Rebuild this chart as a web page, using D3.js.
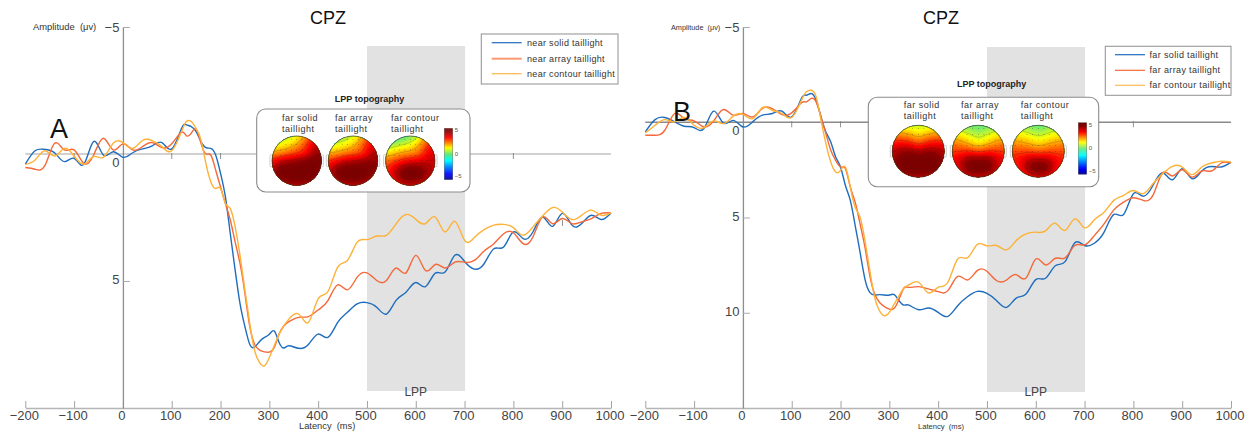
<!DOCTYPE html>
<html>
<head>
<meta charset="utf-8">
<script src="https://cdn.jsdelivr.net/npm/d3@7"></script>
<style>
body { margin: 0; background: #fff; }
svg { display: block; font-family: "Liberation Sans", Arial, sans-serif; }
</style>
</head>
<body>
<svg id="chart" width="1256" height="434"></svg>
<script>
/// Data ///
// Latency samples (ms), finer around the fast drop
const latency = [-200,-180,-160,-140,-120,-100,-80,-60,-40,-20,0,20,40,60,80,100,120,
    130,140,150,160,170,180,190,200,210,220,230,240,250,260,270,280,290,300,310,320,330,
    340,360,380,400,420,440,460,480,500,520,540,560,580,600,620,640,660,680,700,720,740,760,780,800,820,840,860,880,900,920,940,960,980,1000];

// Panel A, amplitude (uV)
const nearSolid = [.40,-.13,-.18,-.05,.30,.17,.40,-.49,.04,-.09,.13,-.05,-.2,-.32,-.45,-.2,-1.0,
    -1.15,-1.08,-.88,-.49,-.25,-.22,.04,.76,1.69,3.14,4.58,5.9,6.8,7.5,7.6,7.38,7.22,7.1,6.97,7.42,7.64,
    7.55,7.65,7.5,7.09,7.22,6.63,6.23,5.9,5.85,6.03,6.3,5.75,5.44,5.06,5.22,4.69,4.65,3.99,4.23,4.53,4.32,3.73,3.66,3.07,3.33,3.07,2.48,2.85,2.34,2.8,2.74,2.41,2.58,2.32];
const nearArray = [.53,.6,.46,-.42,-.16,-.16,.37,.04,-.62,-.16,-.4,-.16,-.29,-.45,-.25,-.4,-.86,
    -.72,-.82,-.97,-.42,0,.04,.63,1.29,1.95,2.6,3.47,4.32,5.5,6.8,7.5,7.72,7.79,7.8,7.62,7.09,6.76,
    6.6,6.43,6.4,6.14,5.77,5.15,5.35,4.85,4.68,4.98,4.98,4.49,4.68,3.99,4.59,4.35,4.49,4.26,4.26,4.19,3.82,3.53,3.14,3.1,3.53,3.27,2.48,2.74,2.54,2.74,2.67,2.54,2.34,2.32];
const nearContour = [.41,.24,-.13,.08,-.22,.08,.4,.1,.13,-.42,-.45,-.22,-.53,-.53,-.29,-.13,-.88,
    -1.28,-1.28,-1.01,-.55,.37,1.09,1.36,1.36,1.95,2.15,2.87,4.0,5.37,6.69,7.75,8.21,8.34,8.01,7.55,7.09,6.76,
    6.5,6.3,6.63,5.7,5.42,4.45,4.19,3.47,3.37,3.23,3.2,2.74,2.38,2.57,2.74,2.48,3.07,2.65,3.4,3.29,2.98,2.8,2.77,2.9,3.2,2.87,2.44,2.11,2.28,2.58,2.41,2.21,2.41,2.32];

// Panel B, amplitude (uV)
const farSolid = [.51,-.14,-.25,-.02,.21,.28,.33,-.58,.04,-.1,.25,-.02,-.37,-.46,-.58,-.28,-1.25,
    -1.42,-1.51,-1.16,-.28,.51,1.04,1.82,2.35,3.32,4.1,5.42,6.82,8.23,8.93,9.07,9.05,9.07,9.07,9.05,9.37,9.6,
    9.6,9.84,9.75,9.98,10.19,9.63,9.16,8.88,8.98,9.37,9.72,9.23,9.02,8.26,8.19,7.53,7.32,6.33,6.47,6.35,5.77,4.84,4.84,3.75,3.88,3.32,2.65,3.02,2.44,2.96,2.56,2.32,2.35,2.09];
const farArray = [.68,.68,.42,-.46,-.19,-.07,.25,-.07,-.67,-.37,-.46,-.28,-.72,-.72,-.4,-.49,-1.02,
    -1.07,-1.25,-1.07,-.28,.6,1.47,2.0,2.35,2.44,3.4,4.2,5.33,6.56,8.05,9.02,9.46,9.68,9.81,9.77,9.28,8.7,
    8.67,8.63,8.75,8.89,8.84,8.09,8.28,7.79,7.82,8.32,8.28,8.0,8.18,7.18,7.49,7.14,7.12,6.47,6.44,5.95,5.33,4.6,4.19,3.96,4.1,3.84,2.65,2.82,2.49,2.88,2.56,2.56,2.14,2.14];
const farContour = [.56,.16,-.14,-.02,-.25,.16,.28,-.07,.07,-.32,-.42,-.19,-.77,-.63,-.46,-.25,-1.16,
    -1.6,-1.68,-1.33,-.11,1.12,2.09,2.61,2.53,2.35,3.4,4.46,4.98,6.21,7.79,9.19,9.9,10.16,9.98,9.54,9.1,8.7,
    8.54,8.4,8.96,8.67,8.4,7.18,7.12,6.42,6.49,6.47,6.7,6.21,5.86,5.77,5.7,5.3,5.68,5.07,5.54,5.12,4.72,4.1,3.84,3.58,3.75,3.23,2.7,2.32,2.35,2.75,2.35,2.14,2.04,2.09];

const xTicks = [-200,-100,0,100,200,300,400,500,600,700,800,900,1000];
const lppWindow = [500, 700];

// Topography values (uV) sampled on a 7x7 grid over the head, top row first
const topoA1 = [[.6,.6,.8,1.2,2.2,3.2,3.6],[1.2,1.3,1.6,2.1,2.9,3.7,4.1],[2.1,2.3,2.6,2.9,3.2,4.2,4.5],[3.3,3.9,4.2,4.4,4.7,4.9,4.6],[4,5,5,5,5,5,4.4],[3.8,4.9,5,5,5,4.9,4.2],[3,3.6,3.9,3.9,3.9,3.6,3]];
const topoA2 = [[.4,.5,.6,1,1.9,3,3.3],[1,1.1,1.4,1.8,2.6,3.4,3.8],[1.9,2.1,2.4,2.6,2.8,3.8,4.2],[3.1,3.5,3.9,4.1,4.3,4.5,4.4],[3.6,4.7,5,5,5,4.9,4.2],[3.5,4.6,5,5,4.9,4.5,3.8],[2.8,3.4,3.8,3.8,3.8,3.4,2.8]];
const topoA3 = [[-.4,-.3,-.1,.2,1,2.3,2.8],[.4,.7,1,1.3,2,3,3.5],[1.5,1.8,2.1,2.2,2.5,3.4,3.8],[2.5,2.9,3.3,3.6,3.7,3.9,3.9],[3,3.8,4.6,4.9,4.8,4.3,3.8],[3,3.8,4.8,5,4.9,4.2,3.4],[2.4,3,3.4,3.5,3.4,3,2.4]];
const topoB1 = [[1.3,1.2,1,.8,1,1.2,1.3],[2.3,2.2,2,1.6,2,2.2,2.3],[3.3,3.4,3.2,2.7,3.2,3.4,3.3],[4,4.4,4.6,4.2,4.6,4.4,4],[4.2,5,5,5,5,5,4.2],[4,4.9,5,5,5,4.9,4],[3,3.6,3.9,3.9,3.9,3.6,3]];
const topoB2 = [[.5,.4,.2,0,.2,.4,.5],[1.7,1.4,1,.7,1,1.4,1.7],[2.4,2.2,1.8,1.3,1.8,2.2,2.4],[3,3.1,3.2,2.9,3.2,3.1,3],[3.4,4,4.7,4.7,4.7,4,3.4],[3.2,4,5,5,5,4,3.2],[2.4,3.1,3.6,3.7,3.6,3.1,2.4]];
const topoB3 = [[.6,.5,.3,0,.3,.5,.6],[1.6,1.4,1.1,.8,1.1,1.4,1.6],[2.2,2.1,1.9,1.6,1.9,2.1,2.2],[2.9,2.9,2.9,2.7,2.9,2.9,2.9],[3.2,3.5,4.2,4.3,4.2,3.5,3.2],[3,3.5,4.7,5,4.8,3.5,3],[2.2,2.8,3.3,3.5,3.3,2.8,2.2]];

const topoNames = [["far solid","taillight"],["far array","taillight"],["far contour","taillight"]];

/// Colours ///
const BLUE = "#1f6dbd", RED = "#f4693a", YELLOW = "#fdb237";
const jet = d3.scaleLinear()
    .domain([-5,-3.9,-1.25,0,1.25,3.3,4.4,5])
    .range(["#00008f","#0000ff","#00ffff","#5fe87f","#ffff00","#ff0000","#8a0000","#760000"]);

const svg = d3.select("#chart");

/// Topography head ///
// Bilinear resample of a coarse grid, then a small blur so the contours come out round
function resample(grid, n) {
    const m = grid.length - 1;
    const data = new Float64Array(n * n);
    for (let j = 0; j < n; j++) {
        for (let i = 0; i < n; i++) {
            const gx = i / (n - 1) * m, gy = j / (n - 1) * m;
            const x0 = Math.min(Math.floor(gx), m - 1), y0 = Math.min(Math.floor(gy), m - 1);
            const fx = gx - x0, fy = gy - y0;
            data[j * n + i] = (grid[y0][x0] * (1 - fx) + grid[y0][x0 + 1] * fx) * (1 - fy)
                + (grid[y0 + 1][x0] * (1 - fx) + grid[y0 + 1][x0 + 1] * fx) * fy;
        }
    }
    return d3.blur2({data: data, width: n, height: n}, 3).data;
}

let clipCount = 0;
function drawHead(g, grid, cx, cy, r) {
    const n = 60;
    const values = resample(grid, n);
    const clipId = "head" + (clipCount++);
    const head = g.append("g").attr("transform", "translate(" + cx + "," + cy + ")");

    // ears
    [-1, 1].forEach(function(side) {
        head.append("rect")
            .attr("x", side < 0 ? -r - 2 : r - 1).attr("y", -6)
            .attr("width", 3).attr("height", 12).attr("rx", 1)
            .attr("fill", "#fff").attr("stroke", "#bbb").attr("stroke-width", 0.7);
    });

    head.append("clipPath").attr("id", clipId).append("circle").attr("r", r);
    const inside = head.append("g").attr("clip-path", "url(#" + clipId + ")");
    const path = d3.geoPath(d3.geoIdentity().scale(2 * r / (n - 1)).translate([-r, -r]));

    inside.append("circle").attr("r", r).attr("fill", jet(d3.min(values)));
    inside.selectAll("path.band")
        .data(d3.contours().size([n, n]).thresholds(d3.range(-5, 5.01, 0.2))(values))
        .enter().append("path").attr("class", "band")
        .attr("d", path).attr("fill", function(d) { return jet(d.value); });
    inside.selectAll("path.line")
        .data(d3.contours().size([n, n]).thresholds([1, 2, 3, 4])(values))
        .enter().append("path").attr("class", "line")
        .attr("d", path).attr("fill", "none")
        .attr("stroke", "#222").attr("stroke-opacity", 0.45).attr("stroke-width", 0.4);

    // electrode dots
    d3.range(-4, 5).forEach(function(a) {
        d3.range(-4, 5).forEach(function(b) {
            const px = a * r / 4.6, py = b * r / 4.6;
            if (px * px + py * py < r * r * 0.85) {
                inside.append("circle").attr("cx", px).attr("cy", py).attr("r", 0.35).attr("fill", "#222");
            }
        });
    });

    head.append("circle").attr("r", r).attr("fill", "none").attr("stroke", "#3a3a2a").attr("stroke-width", 0.7);
}

function drawTopoBox(c) {
    const g = svg.append("g");
    g.append("rect")
        .attr("x", c.box[0]).attr("y", c.box[1])
        .attr("width", c.box[2] - c.box[0]).attr("height", c.box[3] - c.box[1])
        .attr("rx", 9).attr("fill", "#fff").attr("stroke", "#8c8c8c").attr("stroke-width", 1.1);
    g.append("text").attr("x", c.titleX).attr("y", c.titleY).attr("text-anchor", "middle")
        .attr("font-size", 9).attr("font-weight", "bold").attr("fill", "#222").text("LPP topography");

    c.maps.forEach(function(grid, i) {
        topoNames[i].forEach(function(line, k) {
            g.append("text").attr("x", c.nameX[i]).attr("y", c.nameY + k * 10.8)
                .attr("font-size", 9).attr("fill", "#333").attr("letter-spacing", 0.5).text(line);
        });
        drawHead(g, grid, c.headX[i], c.headY, c.r);
    });

    // colour bar
    const bar = d3.scaleLinear().domain([5, -5]).range([c.bar[1], c.bar[2]]);
    g.selectAll("rect.cb").data(d3.range(5, -5, -0.2)).enter().append("rect").attr("class", "cb")
        .attr("x", c.bar[0]).attr("width", 8.4)
        .attr("y", function(d) { return bar(d); })
        .attr("height", bar(-5) / 50 - bar(5) / 50 + 0.4)
        .attr("fill", function(d) { return jet(d); });
    g.append("rect").attr("x", c.bar[0]).attr("y", c.bar[1]).attr("width", 8.4).attr("height", c.bar[2] - c.bar[1])
        .attr("fill", "none").attr("stroke", "#555").attr("stroke-width", 0.4);
    [5, 0, -5].forEach(function(v) {
        g.append("text").attr("x", c.bar[0] + 10.5).attr("y", bar(v) + (v === 5 ? 4 : v === 0 ? 2 : -1))
            .attr("font-size", 6).attr("fill", "#555").text(v < 0 ? "\u2212" + (-v) : v);
    });
}

/// Legend ///
function drawLegend(c) {
    const g = svg.append("g");
    g.append("rect")
        .attr("x", c.box[0]).attr("y", c.box[1])
        .attr("width", c.box[2] - c.box[0]).attr("height", c.box[3] - c.box[1])
        .attr("fill", "#fff").attr("stroke", "#999").attr("stroke-width", 1.1);
    c.items.forEach(function(item, i) {
        g.append("line").attr("x1", c.lineX[0]).attr("x2", c.lineX[1])
            .attr("y1", c.rowY[i]).attr("y2", c.rowY[i])
            .attr("stroke", item.color).attr("stroke-width", item.width);
        g.append("text").attr("x", c.textX).attr("y", c.rowY[i] + 3)
            .attr("font-size", 9).attr("letter-spacing", c.spacing).attr("fill", "#333").text(item.name);
    });
}

/// One ERP panel ///
function drawPanel(c) {
    const x = d3.scaleLinear().domain([-200, 1000]).range(c.xRange);
    const y = d3.scaleLinear().domain(c.yDomain).range([27, 408]);
    const g = svg.append("g");

    // LPP window
    g.append("rect")
        .attr("x", x(lppWindow[0])).attr("width", x(lppWindow[1]) - x(lppWindow[0]) + 0.5)
        .attr("y", c.bandY[0]).attr("height", c.bandY[1] - c.bandY[0])
        .attr("fill", "#e2e2e2");

    // zero line with its few small ticks
    g.append("line").attr("x1", x(-200)).attr("x2", x(1000)).attr("y1", y(0)).attr("y2", y(0))
        .attr("stroke", c.zeroColor).attr("stroke-width", 1.4);
    c.zeroTicks.forEach(function(t) {
        g.append("line").attr("x1", x(t)).attr("x2", x(t)).attr("y1", y(0) - 1).attr("y2", y(0) + 5)
            .attr("stroke", "#777").attr("stroke-width", 0.8);
    });

    // axes
    const xAxis = g.append("g").attr("transform", "translate(0," + 408 + ")")
        .call(d3.axisBottom(x).tickValues(xTicks).tickFormat(d3.format("d")).tickSizeInner(-7).tickSizeOuter(0).tickPadding(3));
    const yAxis = g.append("g").attr("transform", "translate(" + x(0) + ",0)")
        .call(d3.axisLeft(y).tickValues(c.yTicks).tickSizeInner(-7).tickSizeOuter(0).tickPadding(3.5));
    xAxis.select(".domain").attr("stroke", "#b5b5b5").attr("stroke-width", 1.6);
    xAxis.selectAll("line").attr("stroke", "#999").attr("stroke-width", 0.9);
    yAxis.select(".domain").attr("stroke", "#8e8e8e").attr("stroke-width", 1.3);
    yAxis.selectAll("line").attr("stroke", "#aaa").attr("stroke-width", 1);
    [xAxis, yAxis].forEach(function(a) {
        a.selectAll("text").attr("font-size", 13).attr("font-family", "inherit").attr("fill", "#444");
    });
    xAxis.selectAll("text").attr("dx", -1.5);
    // the zero label sits under the zero line
    yAxis.selectAll(".tick").filter(function(d) { return d === 0; }).select("line").remove();
    yAxis.selectAll(".tick").filter(function(d) { return d === 0; }).select("text").attr("y", 8);
    yAxis.selectAll(".tick").filter(function(d) { return d > 0; }).select("text").attr("y", -1.5);

    // ERP curves
    const line = d3.line()
        .x(function(d, i) { return x(latency[i]); })
        .y(function(d) { return y(d); })
        .curve(d3.curveNatural);
    c.series.forEach(function(s) {
        g.append("path").datum(s.values)
            .attr("fill", "none").attr("stroke", s.color).attr("stroke-width", 1.4)
            .attr("stroke-linejoin", "round").attr("d", line);
    });

    // labels
    g.append("text").attr("x", c.titleX).attr("y", 24).attr("text-anchor", "middle")
        .attr("font-size", 18).attr("fill", "#111").text("CPZ");
    g.append("text").attr("x", c.letter[0]).attr("y", c.letter[1]).attr("font-size", 27)
        .attr("fill", "#111").text(c.letter[2]);
    g.append("text").attr("x", c.ampX).attr("y", 30).attr("font-size", c.ampFont)
        .attr("fill", "#333").attr("xml:space", "preserve").text("Amplitude  (\u03bcv)");
    g.append("text").attr("x", c.latX).attr("y", 429).attr("font-size", c.latFont)
        .attr("fill", "#333").attr("xml:space", "preserve").text("Latency  (ms)");
    g.append("text").attr("x", x(600)).attr("y", 396).attr("text-anchor", "middle")
        .attr("font-size", 12).attr("fill", "#444").text("LPP");
}

/// Draw ///
drawPanel({
    xRange: [25.3, 611], yDomain: [-5, 10], yTicks: [-5, 0, 5], bandY: [46, 391],
    zeroColor: "#c2c2c2", zeroTicks: [-100, 100, 200, 800],
    series: [{values: nearSolid, color: BLUE}, {values: nearArray, color: RED}, {values: nearContour, color: YELLOW}],
    titleX: 328, letter: [50, 138, "A"], ampX: 33, latX: 299, ampFont: 9.4, latFont: 9.3
});
// stray tick mark sitting in panel A near 900 ms
svg.append("line").attr("x1", 562.5).attr("x2", 562.5).attr("y1", 220).attr("y2", 226)
    .attr("stroke", "#777").attr("stroke-width", 0.8);
drawPanel({
    xRange: [645.3, 1231], yDomain: [-5, 15], yTicks: [-5, 0, 5, 10], bandY: [47, 392],
    zeroColor: "#8a8a8a", zeroTicks: [100, 200, 800],
    series: [{values: farSolid, color: BLUE}, {values: farArray, color: RED}, {values: farContour, color: YELLOW}],
    titleX: 941, letter: [673, 121, "B"], ampX: 671, latX: 918, ampFont: 7.3, latFont: 7.6
});

drawTopoBox({
    box: [256.7, 109, 470, 192], titleX: 369.5, titleY: 102,
    maps: [topoA1, topoA2, topoA3], nameX: [282, 335, 391], nameY: 121,
    headX: [296.7, 353, 410.3], headY: 160.7, r: 24.7, bar: [444.3, 128.3, 179.3]
});
drawTopoBox({
    box: [868.3, 97.3, 1098.7, 186.7], titleX: 991.7, titleY: 87,
    maps: [topoB1, topoB2, topoB3], nameX: [903.7, 961, 1020.7], nameY: 107.7,
    headX: [918.3, 978.3, 1038.3], headY: 151.3, r: 26, bar: [1078.3, 122.7, 174]
});

drawLegend({
    box: [481.3, 34, 618, 84], lineX: [491.7, 521.7], rowY: [42.7, 58.7, 73.7], textX: 527, spacing: 0.32,
    items: [
        {name: "near solid taillight", color: BLUE, width: 1.2},
        {name: "near array taillight", color: "#fb9a70", width: 2},
        {name: "near contour taillight", color: "#fdbb55", width: 1.3}
    ]
});
drawLegend({
    box: [1105.3, 46.3, 1231, 95.3], lineX: [1115, 1145], rowY: [54.7, 70.3, 85.3], textX: 1149.5, spacing: 0.36,
    items: [
        {name: "far solid taillight", color: BLUE, width: 1.2},
        {name: "far array taillight", color: RED, width: 1.2},
        {name: "far contour taillight", color: "#fdbb55", width: 1.2}
    ]
});
</script>
</body>
</html>
